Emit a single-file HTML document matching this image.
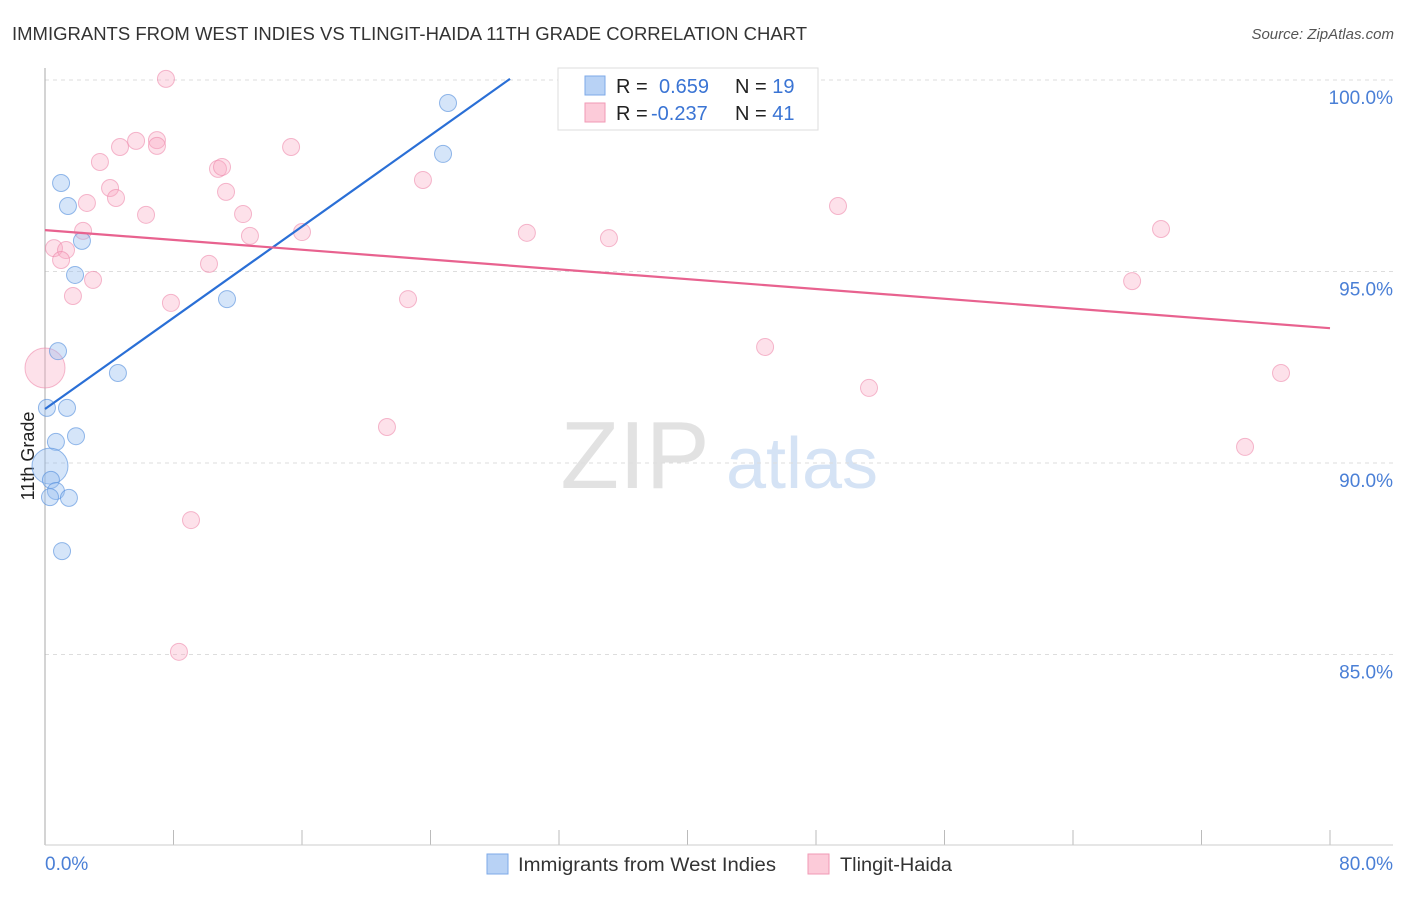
<!DOCTYPE html>
<html><head><meta charset="utf-8"><style>
body{margin:0;background:#fff;font-family:"Liberation Sans",sans-serif}
svg text{font-family:"Liberation Sans",sans-serif}
</style></head><body>
<svg id="c" width="1406" height="892">
<text x="12" y="40" font-size="18" fill="#333" textLength="795" lengthAdjust="spacingAndGlyphs">IMMIGRANTS FROM WEST INDIES VS TLINGIT-HAIDA 11TH GRADE CORRELATION CHART</text>
<text x="1394" y="39" font-size="15" fill="#555" font-style="italic" text-anchor="end">Source: ZipAtlas.com</text>
<g>
<text x="635" y="488" font-size="96" fill="#e2e2e2" font-family="Liberation Serif" text-anchor="middle">ZIP</text>
<text x="802" y="488" font-size="72" fill="#d5e3f5" text-anchor="middle">atlas</text>
</g>
<g id="grid"></g>
<line x1="45" y1="68" x2="45" y2="845" stroke="#aaa"/>
<line x1="45" y1="845" x2="1393" y2="845" stroke="#ccc"/>
<text transform="translate(34,456) rotate(-90)" font-size="18" fill="#222" text-anchor="middle">11th Grade</text>
<text x="45" y="870" font-size="19" fill="#4a7fd6">0.0%</text>
<text x="1393" y="870" font-size="19" fill="#4a7fd6" text-anchor="end">80.0%</text>
<g id="pts"></g>
<g id="lines"></g>
<g>
<rect x="558" y="68" width="260" height="62" fill="#fff" stroke="#ddd"/>
<rect x="585" y="76" width="20" height="19" fill="#b8d2f5" stroke="#7eaae8"/>
<rect x="585" y="103" width="20" height="19" fill="#fccbd9" stroke="#f19ab5"/>
<text x="616" y="93" font-size="20" fill="#222">R = <tspan fill="#3a74d4" x="659">0.659</tspan><tspan fill="#222" x="735">N = </tspan><tspan fill="#3a74d4">19</tspan></text>
<text x="616" y="120" font-size="20" fill="#222">R = <tspan fill="#3a74d4" x="651">-0.237</tspan><tspan fill="#222" x="735">N = </tspan><tspan fill="#3a74d4">41</tspan></text>
</g>
<g>
<rect x="487" y="854" width="21" height="20" fill="#b8d2f5" stroke="#7eaae8"/>
<text x="518" y="871" font-size="19" fill="#333" textLength="258" lengthAdjust="spacingAndGlyphs">Immigrants from West Indies</text>
<rect x="808" y="854" width="21" height="20" fill="#fccbd9" stroke="#f19ab5"/>
<text x="840" y="871" font-size="19" fill="#333" textLength="112" lengthAdjust="spacingAndGlyphs">Tlingit-Haida</text>
</g>
</svg>
<script>
const yTicks=[100,95,90,85];
const xTicks=[0,10,20,30,40,50,60,70,80];
const blueX=[1.0,1.43,2.3,1.87,11.33,0.81,4.54,1.37,0.12,0.68,1.93,0.31,0.37,0.68,0.31,1.49,1.06,24.78,25.09];
const blueY=[97.31,96.71,95.80,94.91,94.28,92.92,92.35,91.44,91.44,90.55,90.70,89.92,89.56,89.27,89.11,89.09,87.70,98.07,99.40];
const blueR=[8.5,8.5,8.5,8.5,8.5,8.5,8.5,8.5,8.5,8.5,8.5,18,8.5,8.5,8.5,8.5,8.5,8.5,8.5];
const pinkX=[7.53,3.42,4.67,5.67,6.97,6.97,4.05,4.42,2.61,6.29,2.37,0.56,1.31,1.0,1.74,2.99,7.84,10.21,10.77,11.02,11.27,12.33,12.76,15.32,16.0,23.53,22.6,21.29,9.09,8.34,30.0,35.11,36.61,44.83,49.37,51.3,69.48,67.68,76.95,74.71,0];
const pinkY=[100.03,97.86,98.25,98.41,98.43,98.28,97.18,96.92,96.79,96.48,96.06,95.61,95.56,95.30,94.36,94.78,94.18,95.20,97.68,97.73,97.08,96.50,95.93,98.25,96.03,97.39,94.28,90.94,88.51,85.07,96.01,95.87,100.03,93.03,96.71,91.96,96.11,94.75,92.35,90.42,92.48];
const pinkR=pinkX.map((v,i)=>i===40?20:8.5);
const blueLine=[91.41,(100.03-91.41)/28.95,0,28.95];
const pinkLine=[96.08,(93.52-96.08)/80,0,80];
const X=v=>45+v/80*1285, Y=v=>80+(100-v)*38.3;
const NS='http://www.w3.org/2000/svg';
const mk=(t,a,p)=>{const e=document.createElementNS(NS,t);for(const k in a)e.setAttribute(k,a[k]);document.getElementById(p).appendChild(e);return e;};
yTicks.forEach(t=>{
 const l=mk('line',{x1:45,x2:1393,y1:Y(t),y2:Y(t),stroke:'#ddd','stroke-dasharray':'4 4'},'grid');
 
 
 const tx=mk('text',{x:1393,y:Y(t)+24,'font-size':19,fill:'#4a7fd6','text-anchor':'end'},'grid');
 tx.textContent=t.toFixed(1)+'%';
 
 
});
for(let i=0;i<=10;i++){
 const l=mk('line',{x1:X(i*8),x2:X(i*8),y1:830,y2:845,stroke:'#bbb'},'grid');
 
 
}
pinkX.forEach((v,i)=>{
 const c=mk('circle',{cx:X(v),cy:Y(pinkY[i]),r:pinkR[i],fill:'rgba(248,170,195,0.35)',stroke:'rgba(236,130,165,0.55)'},'pts');
 
 
});
blueX.forEach((v,i)=>{
 const c=mk('circle',{cx:X(v),cy:Y(blueY[i]),r:blueR[i],fill:'rgba(150,190,240,0.4)',stroke:'rgba(80,140,220,0.6)'},'pts');
 
 
});
[[blueLine,'#2a6fd6','west-indies-trendline'],[pinkLine,'#e8628f','tlingit-haida-trendline']].forEach(([L,col,n])=>{
 const l=mk('line',{x1:X(L[2]),y1:Y(L[0]+L[1]*L[2]),x2:X(L[3]),y2:Y(L[0]+L[1]*L[3]),stroke:col,'stroke-width':2.2},'lines');
 
 
});
</script>
</body></html>
